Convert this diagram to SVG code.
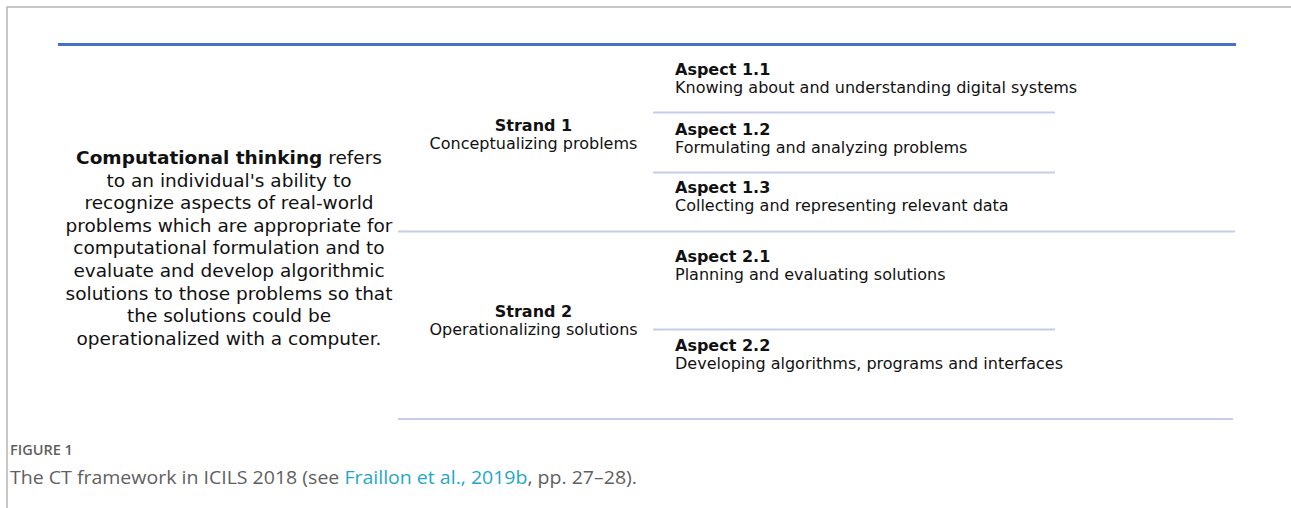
<svg xmlns="http://www.w3.org/2000/svg" width="1291" height="508" viewBox="0 0 1291 508">
<style>
  .t { font-family: "DejaVu Sans", "Liberation Sans", sans-serif; fill: #111; }
  .asp { font-size: 16px; font-weight: bold; }
  .desc { font-size: 16px; }
  .para { font-size: 18.5px; text-anchor: middle; }
  .strand { text-anchor: middle; }
  .rule { stroke: #c6cde9; stroke-width: 2.2; fill: none; }
  .cap { font-family: "Open Sans", "Lato", sans-serif; fill: #5f5f5f; }
</style>
<rect x="0" y="0" width="1291" height="508" fill="#ffffff"/>
<path d="M7 508 V7 H1291" stroke="#b5b5b5" stroke-width="1.5" fill="none"/>

<g id="connectors">
  <line x1="58" y1="44.5" x2="1236" y2="44.5" stroke="#4472c4" stroke-width="3.2"/>
  <line class="rule" x1="653" y1="112.5" x2="1055" y2="112.5"/>
  <line class="rule" x1="653" y1="172.5" x2="1055" y2="172.5"/>
  <line class="rule" x1="398" y1="231.5" x2="1235" y2="231.5"/>
  <line class="rule" x1="653" y1="329.5" x2="1055" y2="329.5"/>
  <line class="rule" x1="398" y1="419" x2="1233" y2="419"/>
</g>

<g id="definition">
  <text class="t para" x="229" y="164"><tspan font-weight="bold">Computational thinking</tspan> refers</text>
  <text class="t para" x="229" y="186.6">to an individual's ability to</text>
  <text class="t para" x="229" y="209.2">recognize aspects of real-world</text>
  <text class="t para" x="229" y="231.8">problems which are appropriate for</text>
  <text class="t para" x="229" y="254.4">computational formulation and to</text>
  <text class="t para" x="229" y="277">evaluate and develop algorithmic</text>
  <text class="t para" x="229" y="299.6">solutions to those problems so that</text>
  <text class="t para" x="229" y="322.2">the solutions could be</text>
  <text class="t para" x="229" y="344.8">operationalized with a computer.</text>
</g>

<g id="strand1">
  <text class="t strand asp" x="533.5" y="131">Strand 1</text>
  <text class="t strand desc" x="533.5" y="149">Conceptualizing problems</text>
</g>
<g id="strand2">
  <text class="t strand asp" x="533.5" y="317">Strand 2</text>
  <text class="t strand desc" x="533.5" y="335">Operationalizing solutions</text>
</g>

<g id="aspect11">
  <text class="t asp" x="675" y="75">Aspect 1.1</text>
  <text class="t desc" x="675" y="93">Knowing about and understanding digital systems</text>
</g>
<g id="aspect12">
  <text class="t asp" x="675" y="134.5">Aspect 1.2</text>
  <text class="t desc" x="675" y="152.5">Formulating and analyzing problems</text>
</g>
<g id="aspect13">
  <text class="t asp" x="675" y="193">Aspect 1.3</text>
  <text class="t desc" x="675" y="211">Collecting and representing relevant data</text>
</g>
<g id="aspect21">
  <text class="t asp" x="675" y="262">Aspect 2.1</text>
  <text class="t desc" x="675" y="280">Planning and evaluating solutions</text>
</g>
<g id="aspect22">
  <text class="t asp" x="675" y="351">Aspect 2.2</text>
  <text class="t desc" x="675" y="369">Developing algorithms, programs and interfaces</text>
</g>

<g id="caption">
  <text class="cap" x="10" y="455" font-size="14.5" font-weight="600" fill="#6a6a6a">FIGURE 1</text>
  <text class="cap" x="10" y="484" font-size="18.5" textLength="627" lengthAdjust="spacingAndGlyphs">The CT framework in ICILS 2018 (see <tspan fill="#1fa7c9">Fraillon et al., 2019b</tspan>, pp. 27–28).</text>
</g>
</svg>
